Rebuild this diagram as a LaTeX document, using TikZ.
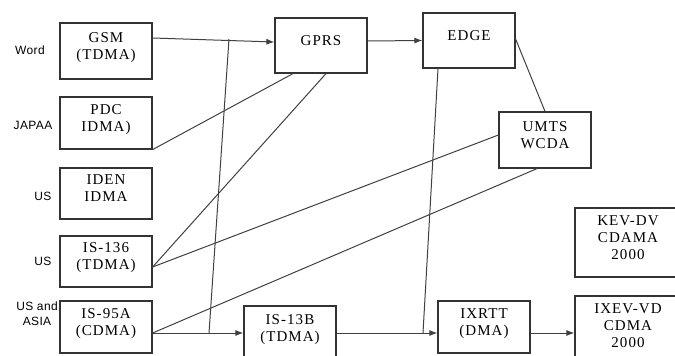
\documentclass[tikz,border=0pt]{standalone}
\usepackage{fontspec}
\usetikzlibrary{arrows.meta}
\setmainfont{Liberation Serif}[LetterSpace=7]
\newfontfamily\regionfont{Liberation Sans}[LetterSpace=3]
\begin{document}
\begin{tikzpicture}[x=1pt,y=-1pt,>={Latex[length=8pt,width=6pt]},
  gen/.style={draw,line width=1.2pt,draw=black!80,align=center,minimum width=92pt,
    text depth=10pt,font=\fontsize{15}{17}\selectfont},
  region/.style={align=center,font=\regionfont\fontsize{12}{15}\selectfont},
  link/.style={draw=black!75,line width=1pt}]
\useasboundingbox (0,0) rectangle (675,356);
% left column
\node (gsm) [gen,minimum height=56pt] at (106,51) {GSM\\(TDMA)};
\node (pdc) [gen,minimum height=52pt] at (106,123) {PDC\\IDMA)};
\node (iden) [gen,minimum height=51pt] at (106,193.5) {IDEN\\IDMA};
\node (is136) [gen,minimum height=51pt] at (106,261.5) {IS-136\\(TDMA)};
\node (is95a) [gen,minimum height=52pt] at (106,327) {IS-95A\\(CDMA)};
\node [region] at (30,50) {Word};
\node [region] at (33,125) {JAPAA};
\node [region] at (43,196) {US};
\node [region] at (43,261) {US};
\node [region] at (37,314) {US and\\ASIA};
% upper row
\node (gprs) [gen,minimum height=55pt] at (321,45.5) {GPRS};
\node (edge) [gen,minimum height=55pt] at (469,40.5) {EDGE};
\node (umts) [gen,minimum height=56pt] at (545,140) {UMTS\\WCDA};
% lower row
\node (is13b) [gen,minimum height=54pt] at (290,333) {IS-13B\\(TDMA)};
\node (ixrtt) [gen,minimum height=52pt] at (484,327) {IXRTT\\(DMA)};
\node (kevdv) [gen,minimum width=106pt,minimum height=69pt] at (628,242.5) {KEV-DV\\CDAMA\\2000};
\node (ixevvd) [gen,minimum width=106pt,minimum height=70pt] at (628,331) {IXEV-VD\\CDMA\\2000};
\coordinate (vtop) at (229,39);
\coordinate (vbot) at (209,333);
\coordinate (ebot) at (423,333);
% connectors
\draw [link,->] ([yshift=13pt]gsm.east) -- ([yshift=3.5pt]gprs.west);
\draw [link] (vtop) -- (vbot);
\draw [link] (pdc.south east) -- ([xshift=-28pt]gprs.south);
\draw [link] ([yshift=-5.5pt]is136.east) -- ([xshift=5pt]gprs.south);
\draw [link] ([yshift=-5.5pt]is136.east) -- ([yshift=5pt]umts.west);
\draw [link] ([yshift=-6pt]is95a.east) -- ([xshift=-8pt]umts.south);
\draw [link,->] ([yshift=-6pt]is95a.east) -- (is13b.west);
\draw [link,->] (is13b.east) -- ([yshift=-6pt]ixrtt.west);
\draw [link] ([xshift=-31pt]edge.south) -- (ebot);
\draw [link,->] ([yshift=4.5pt]gprs.east) -- (edge.west);
\draw [link] ([yshift=1.5pt]edge.east) -- (umts.north);
\draw [link,->] ([yshift=-6pt]ixrtt.east) -- ([yshift=-2pt]ixevvd.west);
\end{tikzpicture}
\end{document}
